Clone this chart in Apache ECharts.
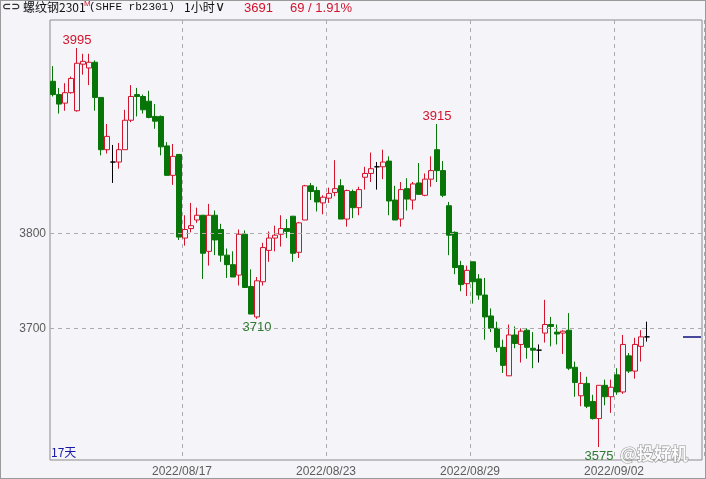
<!DOCTYPE html>
<html><head><meta charset="utf-8">
<script src="https://cdn.jsdelivr.net/npm/echarts@6/dist/echarts.min.js"></script>
<style>
html,body{margin:0;padding:0;background:#f4f4f9;}
#c{width:706px;height:479px;position:absolute;left:0;top:0;}
#f{width:706px;height:479px;position:absolute;left:0;top:0;box-sizing:border-box;border:1px solid #9a9a9a;pointer-events:none;}
</style>
</head><body><div id="c"></div><div id="f"></div>
<script>
// hourly bars, 6 per trading day
var opens  = [3960,3946,3937,3948,3929,3978,3974,3980,3943,3888,3875,3875,3888,3919,3946,3944,3939,3923,3923,3892,
              3861,3883,3795,3805,3814,3819,3781,3819,3804,3777,3767,3756,3799,3744,3712,3749,3782,3795,3799,3805,
              3818,3780,3814,3850,3845,3832,3837,3843,3850,3815,3844,3827,3859,3863,3870,3870,3876,3835,3815,3847,
              3835,3853,3840,3857,3888,3866,3829,3801,3766,3747,3770,3752,3735,3713,3700,3680,3650,3693,3683,3698,
              3679,3677,3695,3704,3696,3695,3698,3659,3629,3642,3623,3605,3640,3628,3651,3633,3671,3655,3681,3691];
var closes = [3946,3936,3948,3963,3979,3981,3980,3943,3888,3902,3875,3888,3919,3944,3944,3930,3922,3918,3891,3861,
              3881,3796,3804,3808,3819,3779,3819,3793,3777,3767,3754,3799,3743,3715,3750,3785,3795,3798,3805,3802,
              3779,3811,3850,3844,3833,3838,3842,3847,3815,3845,3827,3846,3863,3868,3870,3875,3834,3814,3846,3836,
              3852,3841,3857,3866,3866,3840,3798,3764,3746,3761,3749,3735,3712,3700,3680,3661,3693,3684,3697,3680,
              3677,3677,3704,3702,3694,3697,3658,3643,3642,3618,3605,3640,3628,3638,3633,3683,3655,3683,3691,3691];
var lows   = [3944,3926,3929,3947,3928,3967,3956,3929,3882,3884,3853,3868,3888,3917,3923,3926,3921,3910,3882,3861,
              3851,3793,3787,3801,3811,3752,3766,3777,3770,3753,3754,3745,3743,3715,3710,3745,3770,3781,3786,3795,
              3770,3774,3814,3835,3823,3820,3832,3839,3815,3807,3816,3819,3846,3854,3846,3857,3819,3814,3807,3824,
              3825,3841,3839,3849,3854,3838,3777,3757,3739,3734,3726,3730,3688,3696,3675,3653,3650,3679,3664,3668,
              3658,3664,3685,3681,3683,3673,3656,3628,3618,3616,3604,3575,3619,3611,3630,3631,3653,3647,3665,3686];
var highs  = [3976,3953,3958,3965,3995,3989,3989,3982,3943,3915,3893,3895,3930,3956,3953,3946,3950,3936,3924,3896,
              3894,3883,3819,3832,3827,3819,3831,3824,3810,3784,3781,3804,3803,3762,3754,3790,3802,3808,3819,3815,
              3818,3812,3851,3853,3849,3840,3848,3877,3857,3846,3846,3849,3870,3885,3875,3888,3881,3850,3854,3858,
              3854,3874,3863,3881,3915,3876,3833,3802,3771,3766,3770,3757,3753,3721,3707,3688,3704,3702,3700,3700,
              3696,3683,3730,3712,3704,3698,3716,3665,3654,3649,3630,3640,3646,3646,3658,3693,3674,3690,3698,3707];
var tickIndex  = [22, 46, 70, 94];
var tickLabels = ['2022/08/17', '2022/08/23', '2022/08/29', '2022/09/02'];
var gridValues = [3800, 3700];
var highMarks = [4, 64];
var lowMarks  = [34, 91];
var lastPrice = 3691;
var changeText = '69 / 1.91%';
var totalSlots = 109;

var categories = [];
for (var i = 0; i < totalSlots; i++) categories.push(String(i));
var kdata = opens.map(function (o, i) { return [o, closes[i], lows[i], highs[i]]; });

var RED = '#d3142c', GREEN = '#077507', BG = '#f4f4f9';
var mp = [];
highMarks.forEach(function (i) {
  mp.push({coord: [i, highs[i]], value: highs[i],
    label: {position: 'top', distance: 1, color: RED}});
});
lowMarks.forEach(function (i) {
  mp.push({coord: [i, lows[i]], value: lows[i],
    label: {position: 'bottom', distance: 2, color: '#2f7a2f'}});
});
var ml = gridValues.map(function (v) {
  return {yAxis: v, label: {show: true, position: 'start', distance: 4, formatter: String(v),
    color: '#5c5c5c', fontSize: 12, fontFamily: 'Liberation Sans'},
    lineStyle: {color: '#ababab', type: [4, 4], width: 1}};
});
ml.push([{coord: [105, lastPrice]}, {coord: [108, lastPrice]}]);

var hdrFont = 'Noto Sans CJK SC';
function t(text, left, top, style) {
  var s = {fontSize: 12, color: '#111', fontWeight: 'normal', fontFamily: hdrFont};
  for (var k in style) s[k] = style[k];
  return {text: text, left: left, top: top, padding: 0, textStyle: s};
}
var chart = echarts.init(document.getElementById('c'), null, {renderer: 'canvas'});
chart.setOption({
  backgroundColor: BG,
  animation: false,
  title: [
    t('⊂⊃', 2, 2, {fontSize: 11, color: '#333', fontWeight: 'bold', fontFamily: 'DejaVu Sans'}),
    t('螺纹钢2301', 23, 1, {fontSize: 12}),
    t('M', 84, 0, {fontSize: 8, color: RED, fontFamily: 'Liberation Sans'}),
    t('(SHFE rb2301)', 89, 2, {fontSize: 11, fontFamily: 'Liberation Mono'}),
    t('1小时', 184, 1, {fontSize: 12}),
    t('∨', 215, 0, {fontSize: 14, color: '#222', fontFamily: 'DejaVu Sans'}),
    t(String(lastPrice), 244, 2, {fontSize: 13, color: RED, fontFamily: 'Liberation Sans'}),
    t(changeText, 290, 2, {fontSize: 13, color: RED, fontFamily: 'Liberation Sans'}),
    t('17天', 51, 446, {fontSize: 12, color: '#1a1aa8'}),
    {text: '@投好机', left: 620, top: 445, padding: 0, z: 20, textStyle: {fontSize: 17, color: 'rgba(255,255,255,0.9)', fontWeight: 'bold', fontFamily: hdrFont, textBorderColor: 'rgba(110,110,110,0.7)', textBorderWidth: 1.2}}
  ],
  grid: [
    {left: 50, top: 20, right: 2, bottom: 19},
    {left: 50, top: 20, right: 4, bottom: 19, show: true, borderColor: '#8c8c8c', borderWidth: 1, backgroundColor: 'transparent'}
  ],
  xAxis: [
    {type: 'category', gridIndex: 0, data: categories, boundaryGap: true,
     axisLine: {show: false}, axisTick: {show: false},
     axisLabel: {interval: function (idx) { return tickIndex.indexOf(idx) >= 0; },
       formatter: function (v, idx) { var k = tickIndex.indexOf(idx); return k >= 0 ? tickLabels[k] : ''; },
       color: '#5c5c5c', fontSize: 12, margin: 6, padding: [0, 6, 0, 0], fontFamily: 'Liberation Sans'},
     splitLine: {show: true, interval: function (idx) { return tickIndex.indexOf(idx) >= 0; },
       lineStyle: {color: '#ababab', type: [4, 4], width: 1}}},
    {type: 'value', gridIndex: 1, show: false, min: 0, max: 1}
  ],
  yAxis: [
    {type: 'value', gridIndex: 0, min: 3561.4, max: 4024.5, scale: true,
     axisLine: {show: false}, axisTick: {show: false}, axisLabel: {show: false}, splitLine: {show: false}},
    {type: 'value', gridIndex: 1, show: false, min: 0, max: 1}
  ],
  series: [{
    type: 'candlestick', xAxisIndex: 0, yAxisIndex: 0, data: kdata, barWidth: 5,
    itemStyle: {color: BG, color0: GREEN, borderColor: RED, borderColor0: GREEN, borderColorDoji: '#000', borderWidth: 1},
    markPoint: {symbol: 'rect', symbolSize: 1, itemStyle: {color: 'rgba(0,0,0,0)'}, silent: true,
      label: {show: true, fontSize: 13, fontFamily: 'Liberation Sans', formatter: '{c}'}, data: mp},
    markLine: {symbol: ['none', 'none'], silent: true, animation: false,
      lineStyle: {color: '#10107a', type: 'solid', width: 1.5},
      label: {show: false}, data: ml}
  }]
});
</script></body></html>
